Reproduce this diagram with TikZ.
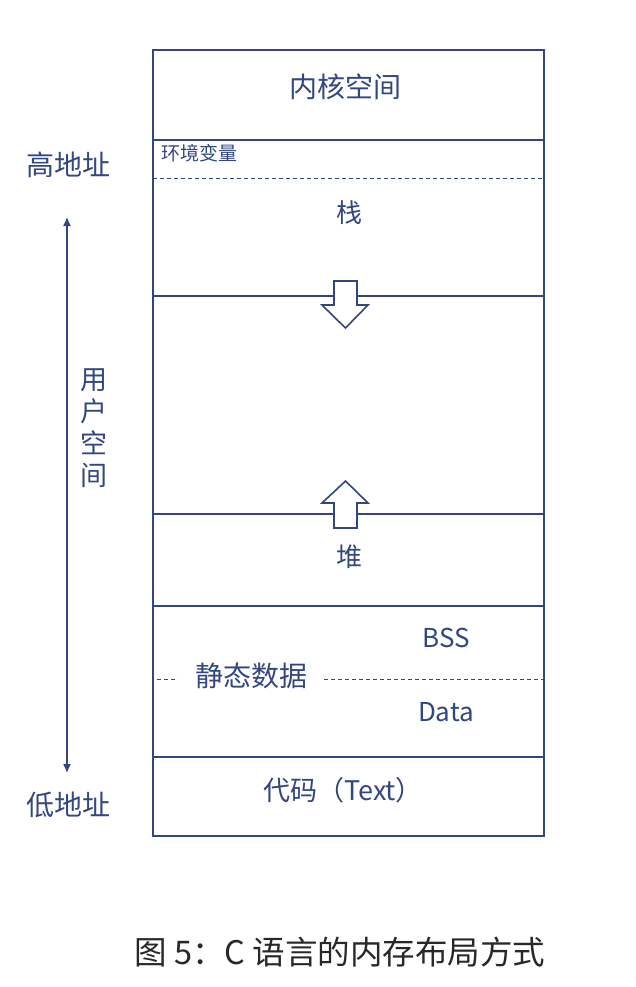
\documentclass[tikz,border=0pt]{standalone}
\usepackage{fontspec}
\usetikzlibrary{arrows.meta}
\newfontfamily\cjk{Noto Sans CJK SC}
\definecolor{ink}{RGB}{50,70,128}
\definecolor{cap}{RGB}{40,40,40}
\begin{document}
\begin{tikzpicture}[x=1pt,y=-1pt,
  seg/.style={draw=ink,line width=1.4pt},
  dashseg/.style={draw=ink,line width=1pt,dash pattern=on 4pt off 3pt},
  lbl/.style={text=ink,font=\cjk\fontsize{#1}{#1}\selectfont,inner sep=0pt},
  lbl/.default=24,
  bigarrow/.style={draw=ink,line width=1.6pt,fill=white,line join=miter}]
\useasboundingbox (0,0) rectangle (635,987);
% outer box
\coordinate (tl) at (153,50);
\coordinate (br) at (544,836);
\draw[seg] (tl) rectangle (br);
% separators
\coordinate (l1) at (153,140); \coordinate (r1) at (544,140);
\coordinate (l2) at (153,179); \coordinate (r2) at (544,179);
\coordinate (l3) at (153,296); \coordinate (r3) at (544,296);
\coordinate (l4) at (153,514); \coordinate (r4) at (544,514);
\coordinate (l5) at (153,606); \coordinate (r5) at (544,606);
\coordinate (l6) at (153,757); \coordinate (r6) at (544,757);
\draw[seg] (l1) -- (r1);
\draw[dashseg] (l2) -- (r2);
\draw[seg] (l3) -- (r3);
\draw[seg] (l4) -- (r4);
\draw[seg] (l5) -- (r5);
\draw[seg] (l6) -- (r6);
% static data dashed line with gap
\coordinate (sa) at (157,679); \coordinate (sb) at (178,679);
\coordinate (sc) at (324,679); \coordinate (sd) at (548,679);
\draw[dashseg] (sa) -- (sb);
\draw[dashseg] (sc) -- (sd);
% big arrows
\draw[bigarrow] (334,281) -- (357,281) -- (357,305) -- (368,305) -- (345.5,328) -- (322,305) -- (334,305) -- cycle;
\draw[bigarrow] (334,528) -- (357,528) -- (357,503) -- (368,503) -- (345.5,481) -- (322,503) -- (334,503) -- cycle;
% labels
\node[lbl=28] (kernel) at (345,87) {内核空间};
\node[lbl=19,anchor=west] (env) at (161,153) {环境变量};
\node[lbl=26] (stack) at (349,213) {栈};
\node[lbl=26] (heap) at (349,557) {堆};
\node[lbl=26] (bss) at (446,638) {BSS};
\node[lbl=26] (data) at (446,712) {Data};
\node[lbl=28] (static) at (251,676) {静态数据};
\node[lbl=27] (code) at (343,790) {代码（Text）};
% left side
\node[lbl=28] (high) at (68,165) {高地址};
\node[lbl=28] (low) at (68,805) {低地址};
\coordinate (atop) at (67,217);
\coordinate (abot) at (67,773);
\draw[ink,line width=1.3pt,{Latex[length=9pt,width=8pt]}-{Latex[length=9pt,width=8pt]}] (atop) -- (abot);
\node[lbl=27,align=center] (user) at (94,428) {用\\[5pt]户\\[5pt]空\\[5pt]间};
% caption
\node[text=cap,font=\cjk\fontsize{32.5}{32.5}\selectfont,inner sep=0pt] (caption) at (340,952) {图 5：C 语言的内存布局方式};
\end{tikzpicture}
\end{document}
